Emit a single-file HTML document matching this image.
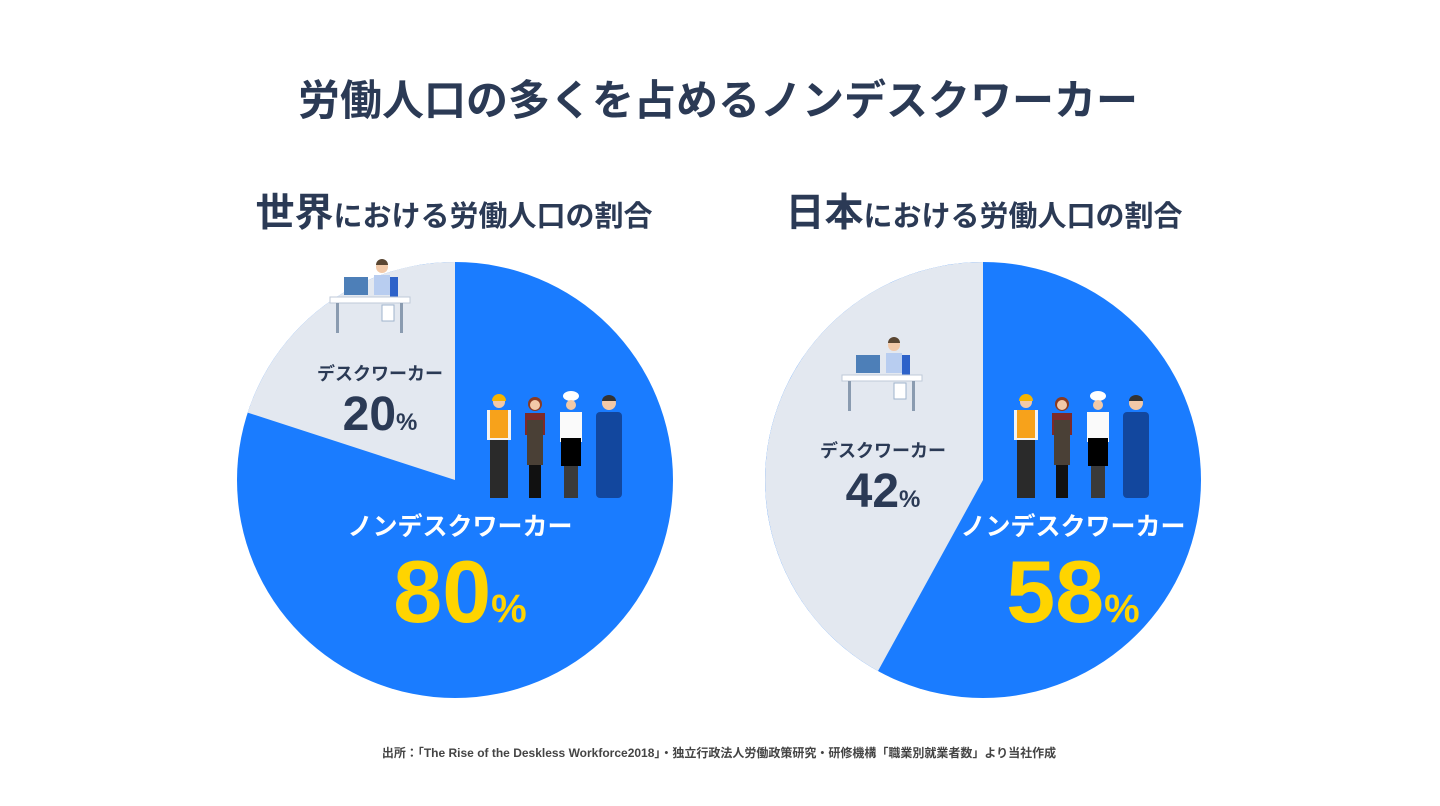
<!DOCTYPE html>
<html><head><meta charset="utf-8"><style>
body{margin:0;background:#fff}
svg{display:block}
text{font-family:"Liberation Sans","Noto Sans CJK JP",sans-serif;font-weight:bold}
</style></head><body>
<svg width="1440" height="806" viewBox="0 0 1440 806" xmlns="http://www.w3.org/2000/svg">
<defs>
<g id="workers">
 <circle cx="15" cy="12" r="6" fill="#f2c9a8"/><path d="M8 11a7 7 0 0 1 14 0z" fill="#f5b400"/>
 <rect x="3" y="20" width="24" height="30" fill="#f3f3f3"/><rect x="6" y="20" width="18" height="28" fill="#f7a21b"/>
 <rect x="6" y="50" width="18" height="58" fill="#2a2a2a"/>
 <circle cx="51" cy="14" r="7" fill="#8a3b22"/><circle cx="51" cy="15" r="5" fill="#f2c9a8"/>
 <rect x="41" y="23" width="20" height="22" fill="#7d2a2a"/><rect x="43" y="30" width="16" height="45" fill="#4a4036"/>
 <rect x="45" y="75" width="12" height="33" fill="#111"/>
 <ellipse cx="87" cy="6" rx="8" ry="5" fill="#fff"/><circle cx="87" cy="15" r="5" fill="#f2c9a8"/>
 <rect x="76" y="22" width="22" height="30" fill="#fafafa"/><rect x="77" y="48" width="20" height="28" fill="#000"/>
 <rect x="80" y="76" width="14" height="32" fill="#3a3a3a"/>
 <circle cx="125" cy="13" r="7" fill="#f2c9a8"/><path d="M118 11a7 6 0 0 1 14 0z" fill="#333"/>
 <rect x="112" y="22" width="26" height="86" rx="4" fill="#12479e"/>
</g>
<g id="desk">
 <circle cx="52" cy="10" r="6" fill="#f2c9a8"/><path d="M46 8a6 6 0 0 1 12 0z" fill="#5a4632"/>
 <rect x="44" y="18" width="16" height="20" fill="#b8cdf0"/>
 <rect x="60" y="20" width="8" height="22" fill="#2d62c9"/>
 <rect x="14" y="20" width="24" height="18" fill="#4d7fb8"/>
 <rect x="0" y="40" width="80" height="6" fill="#fff" stroke="#bfcad8"/>
 <rect x="6" y="46" width="3" height="30" fill="#8a9bb0"/><rect x="70" y="46" width="3" height="30" fill="#8a9bb0"/>
 <rect x="52" y="48" width="12" height="16" fill="#fff" stroke="#9fb3cc"/>
</g>
</defs>
<text x="718" y="115" font-size="42" fill="#2b3a55" text-anchor="middle">労働人口の多くを占めるノンデスクワーカー</text>
<text x="454" y="226" fill="#2b3a55" text-anchor="middle"><tspan font-size="39">世界</tspan><tspan font-size="29">における労働人口の割合</tspan></text>
<text x="984" y="226" fill="#2b3a55" text-anchor="middle"><tspan font-size="39">日本</tspan><tspan font-size="29">における労働人口の割合</tspan></text>

<circle cx="455" cy="480" r="218" fill="#1a7cff"/>
<path d="M455 480 L247.7 412.6 A218 218 0 0 1 455 262 Z" fill="#e3e8f0"/>
<circle cx="983" cy="480" r="218" fill="#1a7cff"/>
<path d="M983 480 L878 671 A218 218 0 0 1 983 262 Z" fill="#e3e8f0"/>

<use href="#desk" x="330" y="257"/>
<use href="#desk" x="842" y="335"/>
<use href="#workers" x="484" y="390"/>
<use href="#workers" x="1011" y="390"/>

<text x="380" y="380" font-size="18" fill="#2b3a55" text-anchor="middle">デスクワーカー</text>
<text x="380" y="430" font-size="48" fill="#2b3a55" text-anchor="middle">20<tspan font-size="24">%</tspan></text>
<text x="460" y="535" font-size="25" fill="#fff" text-anchor="middle">ノンデスクワーカー</text>
<text x="460" y="622" font-size="88" fill="#ffd400" text-anchor="middle">80<tspan font-size="40">%</tspan></text>

<text x="883" y="457" font-size="18" fill="#2b3a55" text-anchor="middle">デスクワーカー</text>
<text x="883" y="507" font-size="48" fill="#2b3a55" text-anchor="middle">42<tspan font-size="24">%</tspan></text>
<text x="1073" y="535" font-size="25" fill="#fff" text-anchor="middle">ノンデスクワーカー</text>
<text x="1073" y="622" font-size="88" fill="#ffd400" text-anchor="middle">58<tspan font-size="40">%</tspan></text>

<text x="719" y="757" font-size="12" fill="#444" text-anchor="middle" font-weight="normal"><tspan font-weight="bold">出所：</tspan>「The Rise of the Deskless Workforce2018」・独立行政法人労働政策研究・研修機構「職業別就業者数」より当社作成</text>
</svg>
</body></html>
